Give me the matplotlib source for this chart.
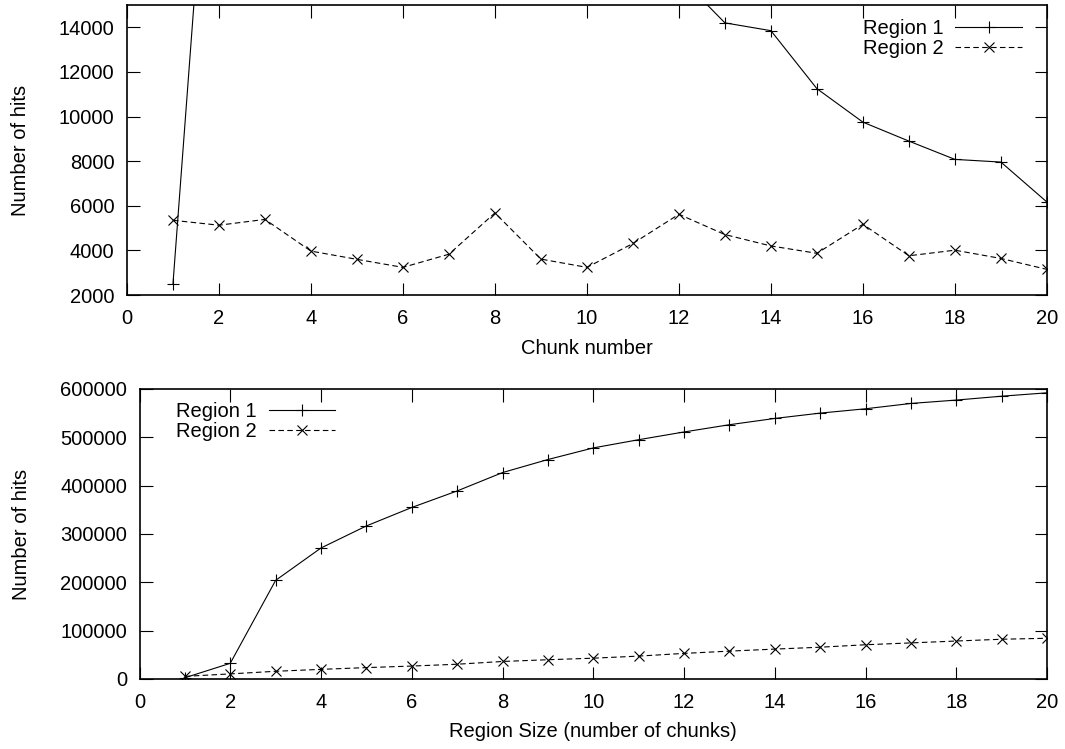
import matplotlib.pyplot as plt

plt.rcParams['font.family'] = ['Liberation Sans', 'DejaVu Sans']

# chunk number vs hits (top panel)
chunks = list(range(1, 21))
hits_region1 = [2490, 30000, 171600, 67000, 45600, 38200, 34200, 38000, 27000, 24000,
                17000, 16300, 14200, 13850, 11250, 9750, 8900, 8080, 7960, 6170]
hits_region2 = [5350, 5130, 5390, 3970, 3600, 3240, 3830, 5680, 3610, 3240,
                4310, 5620, 4710, 4200, 3870, 5170, 3760, 4010, 3640, 3150]

# region size vs hits (bottom panel)
sizes = list(range(1, 21))
size_region1 = [2500, 32400, 204000, 271000, 316600, 354800, 389000, 427000, 454000, 478000,
                495000, 511000, 526000, 539000, 550000, 559000, 570000, 577000, 585000, 592000]
size_region2 = [5400, 10500, 15900, 19900, 23500, 26700, 30500, 36200, 39800, 43000,
                47300, 52900, 57600, 61800, 65700, 70800, 74600, 78500, 82200, 84200]

FS = 14.5

fig = plt.figure(figsize=(10.65, 7.49), dpi=100)
ax1 = fig.add_axes([0.1192, 0.6061, 0.8638, 0.3872])
ax2 = fig.add_axes([0.1310, 0.0935, 0.8521, 0.3872])


def style_axis(ax):
    ax.tick_params(direction='in', length=9, width=0.8, top=True, right=True,
                   labelsize=FS, pad=10)
    ax.tick_params(axis='y', pad=9)
    for s in ax.spines.values():
        s.set_linewidth(1.2)


def add_legend(ax, loc, anchor):
    ax.legend(loc=loc, frameon=False, markerfirst=False, fontsize=FS,
              handlelength=3.3, handletextpad=0.6, labelspacing=0.05,
              borderaxespad=0.3, bbox_to_anchor=anchor)


ax1.plot(chunks, hits_region1, color='k', lw=0.8, marker='+', ms=8, mew=0.8, label='Region 1')
ax1.plot(chunks, hits_region2, color='k', lw=0.8, ls=(0, (5, 3)), marker='x', ms=6.5, mew=0.8,
         label='Region 2')
ax1.set_xlim(0, 20)
ax1.set_ylim(2000, 15000)
ax1.set_xticks(range(0, 21, 2))
ax1.set_yticks(range(2000, 15000, 2000))
ax1.set_xlabel('Chunk number', fontsize=FS, labelpad=8)
ax1.set_ylabel('Number of hits', fontsize=FS, labelpad=21)
style_axis(ax1)
add_legend(ax1, 'upper right', (0.988, 1.0))

ax2.plot(sizes, size_region1, color='k', lw=0.8, marker='+', ms=8, mew=0.8, label='Region 1')
ax2.plot(sizes, size_region2, color='k', lw=0.8, ls=(0, (5, 3)), marker='x', ms=6.5, mew=0.8,
         label='Region 2')
ax2.set_xlim(0, 20)
ax2.set_ylim(0, 600000)
ax2.set_xticks(range(0, 21, 2))
ax2.set_yticks(range(0, 600001, 100000))
ax2.set_xlabel('Region Size (number of chunks)', fontsize=FS, labelpad=7)
ax2.set_ylabel('Number of hits', fontsize=FS, labelpad=21)
style_axis(ax2)
add_legend(ax2, 'upper left', (0.025, 1.005))

fig.savefig('out.png', dpi=100)
